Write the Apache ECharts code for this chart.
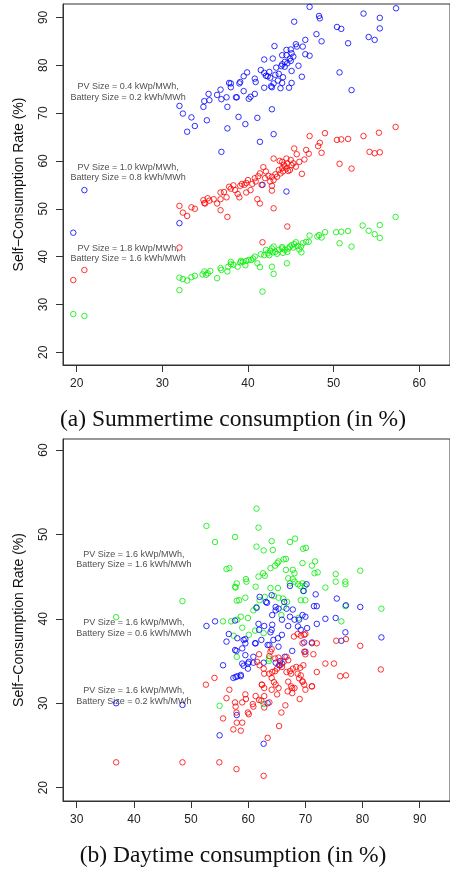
<!DOCTYPE html>
<html>
<head>
<meta charset="utf-8">
<script src="https://cdn.jsdelivr.net/npm/echarts@6/dist/echarts.min.js"></script>
<style>
html,body{margin:0;padding:0;background:#fff;}
#chart{width:450px;height:873px;}
</style>
</head>
<body>
<div id="chart"></div>
<script>
// ---------- Data ----------
// (a) Summertime consumption (x) vs self-consumption rate (y)
const summerBlue = [
[47.2,92.2],[57.3,91.9],[53.5,90.8],[48.3,90.3],[48.4,89.8],[55.4,89.9],[45.4,89.1],[50.4,88.0],[50.9,87.6],[55.4,87.7],
[48.0,86.5],[54.1,85.9],[54.8,85.3],[48.6,85.0],[51.7,84.6],[43.1,84.0],[45.6,84.4],[45.7,83.9],[46.7,85.3],[46.4,83.9],
[44.5,83.2],[45.0,83.3],[45.1,82.5],[44.5,82.1],[44.0,82.1],[44.9,81.4],[44.3,80.7],[44.6,80.4],[43.9,79.8],[43.3,79.5],
[44.3,79.7],[45.1,78.8],[43.6,78.2],[43.2,78.0],[42.5,78.6],[42.3,77.7],[41.9,78.4],[41.5,79.0],[41.9,81.2],[42.9,81.4],
[46.7,82.3],[47.2,82.0],[45.9,79.9],[46.3,77.6],[45.1,76.3],[44.8,75.3],[43.8,75.2],[44.0,76.3],[44.1,77.5],[43.0,76.2],
[42.8,75.4],[42.7,75.6],[41.9,75.3],[40.8,77.2],[40.9,76.5],[39.9,78.5],[39.5,77.7],[39.1,76.5],[39.0,76.2],[38.0,76.2],
[37.8,76.3],[38.0,75.4],[39.5,74.6],[40.8,74.0],[40.3,73.4],[40.1,73.0],[38.7,73.3],[38.6,73.3],[37.5,73.3],[36.8,74.9],
[36.4,73.8],[36.9,72.9],[35.4,74.0],[35.5,72.7],[34.9,72.5],[34.8,71.3],[37.6,71.3],[32.0,71.5],[32.4,69.9],[33.4,69.1],
[35.2,68.5],[38.9,69.2],[41.1,69.0],[42.8,70.8],[33.8,67.3],[32.9,66.1],[37.6,66.8],[39.7,67.7],[43.0,65.6],[41.4,64.0],
[36.9,61.9],[50.7,78.5],[52.1,74.8],[42.1,77.8],[42.6,77.4],[44.0,80.2],[45.3,81.8],[45.0,80.9],[43.5,76.8],
[44.5,53.6],[41.7,55.0],[20.9,53.9],[19.6,45.0],[32.0,47.0]
];
const summerRed = [
[57.25,67.1],[49.0,65.8],[47.2,65.2],[55.3,65.9],[53.5,65.2],[50.4,64.4],[50.9,64.5],[51.7,64.6],[48.4,63.8],[48.2,63.1],
[48.6,61.7],[46.8,62.3],[47.1,61.5],[45.4,62.6],[45.7,61.4],[54.2,61.9],[54.8,61.6],[55.4,61.8],[50.7,59.4],[52.1,58.4],
[43.0,60.5],[44.5,60.5],[45.0,60.2],[44.0,59.8],[44.6,59.5],[45.1,59.1],[44.5,58.4],[44.1,57.8],[44.9,58.1],[44.3,58.9],
[43.6,58.1],[43.4,56.7],[43.8,57.4],[46.3,57.3],[46.0,59.8],[46.6,60.3],[41.8,58.7],[42.1,57.8],[42.4,56.9],[42.8,56.7],
[43.0,56.0],[42.6,55.7],[40.8,56.4],[40.9,55.7],[41.6,55.0],[41.4,57.4],[40.0,56.0],[39.6,55.0],[39.1,54.8],[39.3,55.2],
[40.3,53.9],[42.8,54.8],[42.8,53.8],[37.8,54.6],[38.0,54.2],[38.3,54.9],[38.8,53.1],[39.0,52.4],[39.8,53.4],[41.1,52.0],
[41.4,51.1],[36.8,53.4],[36.8,52.0],[37.5,52.4],[36.4,51.1],[34.8,51.8],[35.3,52.2],[35.5,51.7],[35.0,51.1],[36.8,49.7],
[37.6,48.3],[43.0,50.1],[33.4,50.3],[33.8,50.0],[32.0,50.6],[32.4,49.2],[32.9,48.5],[44.6,46.3],
[44.0,58.5],[44.7,57.9],[45.3,59.5],[43.2,57.2],[44.2,59.2],[42.0,56.4],[40.5,55.2],[39.8,55.4],[37.2,53.5],[36.0,52.0],
[34.9,51.2],[43.7,60.0],[45.6,58.8],[41.2,56.8],[38.5,53.9],
[19.6,35.1],[20.9,37.2],[32.0,41.9],[41.7,43.0]
];
const summerGreen = [
[57.25,48.3],[55.4,46.6],[53.4,46.5],[54.1,45.4],[54.8,44.7],[55.4,43.9],[50.3,45.1],[50.9,45.2],[51.7,45.35],[50.7,42.8],
[52.1,42.1],[49.0,45.1],[48.3,44.5],[48.1,44.2],[48.6,44.0],[47.2,44.4],[46.8,43.1],[47.1,43.1],[46.2,42.1],[46.4,42.8],
[46.25,40.9],[45.6,43.0],[45.4,42.6],[45.1,42.4],[44.9,42.1],[44.7,41.7],[44.3,41.4],[44.0,41.7],[43.6,41.4],[43.2,41.0],
[42.8,41.7],[43.0,42.1],[42.5,40.3],[42.3,40.7],[41.9,40.3],[42.1,41.4],[44.55,38.6],[42.8,37.9],[43.0,36.4],[41.7,32.7],
[41.4,37.8],[41.1,38.6],[40.8,40.0],[40.4,39.3],[40.1,39.3],[39.8,39.1],[39.4,38.9],[39.1,38.8],[38.8,37.9],[39.7,38.2],
[38.0,38.9],[38.0,38.4],[37.7,37.9],[37.6,36.9],[36.8,37.6],[36.9,37.2],[36.4,35.5],[35.6,37.0],[35.3,36.5],[34.9,36.9],
[34.7,36.3],[35.1,36.2],[33.8,36.0],[33.4,35.7],[32.9,35.0],[32.4,35.3],[32.0,35.6],[32.0,33.0],
[44.1,40.8],[44.6,41.0],[45.3,41.9],[43.4,40.6],[42.9,40.9],[44.0,42.0],[41.5,40.5],[40.6,39.6],[39.2,39.1],[38.3,38.3],
[45.8,42.2],[46.0,41.5],[42.6,41.2],
[19.6,28.0],[20.9,27.6]
];
// (b) Daytime consumption (x) vs self-consumption rate (y)
const dayGreen = [
[61.45,53.05],[52.7,51.0],[61.8,50.8],[54.2,49.1],[57.7,49.7],[64.1,49.2],[61.45,48.55],[62.7,48.1],[64.3,48.15],[67.3,49.1],
[68.2,49.5],[69.6,48.3],[70.1,48.4],[56.2,45.9],[56.7,46.0],[61.8,45.0],[62.6,45.4],[62.9,45.1],[63.9,46.0],[64.7,46.3],
[65.1,46.6],[65.3,46.8],[66.2,47.05],[66.6,47.1],[69.5,46.6],[71.15,46.3],[71.7,46.8],[71.6,45.4],[72.15,45.5],[66.6,45.8],
[67.8,45.8],[68.1,45.4],[58.0,44.2],[57.7,43.8],[59.6,44.7],[59.7,44.4],[61.3,43.8],[63.9,43.65],[65.2,43.65],[67.0,44.8],
[67.3,44.2],[67.8,44.7],[68.1,44.4],[68.7,44.1],[69.1,43.9],[69.5,44.2],[69.9,43.9],[73.5,43.7],[75.3,45.3],[75.3,44.4],
[77.0,44.4],[77.0,44.1],[79.6,45.7],[62.9,42.6],[64.5,42.7],[65.3,42.5],[66.1,42.4],[66.8,42.0],[58.0,42.15],[58.4,42.2],
[59.5,42.5],[62.0,42.2],[69.6,43.3],[70.0,42.2],[69.2,42.2],[66.2,41.4],[48.5,42.1],[83.3,41.2],[77.0,41.5],[36.9,40.2],
[55.6,39.7],[57.0,39.7],[58.1,39.9],[58.7,40.25],[59.95,40.1],[57.8,43.7],[60.9,41.0],[61.45,41.4],[65.8,40.45],[68.8,40.1],
[76.3,39.7],[57.45,38.0],[58.95,38.95],[60.1,38.1],[61.2,38.6],[62.7,38.3],[58.0,35.5],[63.6,35.3],[63.6,35.0],
[55.0,29.7],[62.7,29.9]
];
const dayBlue = [
[70.2,44.1],[67.3,43.9],[69.7,43.3],[71.8,42.9],[61.45,41.3],[62.0,42.6],[64.1,42.8],[63.3,41.9],[64.8,41.4],[65.3,41.2],
[66.3,42.0],[66.7,41.2],[67.8,41.1],[75.5,42.4],[77.1,41.6],[79.6,41.4],[71.5,41.5],[72.0,41.5],[64.2,40.45],[65.9,39.9],
[67.3,40.25],[68.1,39.9],[68.9,39.9],[70.0,40.25],[72.0,39.4],[75.3,40.1],[52.7,39.15],[54.2,39.7],[57.7,39.8],[61.8,39.4],
[62.8,39.15],[61.9,38.7],[64.1,38.7],[63.9,38.4],[64.4,37.5],[65.2,37.7],[65.9,38.1],[67.0,39.15],[68.7,39.1],[69.2,38.7],
[70.3,38.9],[56.6,38.2],[56.2,37.3],[58.1,37.7],[59.2,37.5],[59.5,37.1],[57.7,36.3],[57.95,36.2],[58.95,36.5],[59.5,35.7],
[61.3,37.1],[63.4,36.9],[65.3,36.7],[67.7,36.2],[69.8,37.2],[70.0,36.1],[71.15,37.2],[77.0,38.4],[83.3,37.8],[76.3,37.4],
[55.6,34.5],[59.95,34.7],[58.95,34.7],[62.7,34.8],[64.8,34.8],[65.6,35.0],[58.1,33.2],[57.4,33.0],[58.7,33.2],[59.95,34.1],
[60.9,34.8],[65.9,34.7],[59.5,37.6],[63.1,42.0],[64.8,41.0],[69.5,40.45],[73.5,40.0],[64.2,39.3],[63.7,36.9],[66.4,35.5],
[61.2,37.1],[62.3,37.5],[60.9,35.5],[60.1,34.9],[59.2,34.45],[58.7,33.35],[57.8,33.1],[65.4,34.5],
[58.0,28.6],[36.9,30.0],[48.5,29.8],[55.0,26.2],[62.7,25.2],[63.4,30.0]
];
const dayRed = [
[69.8,38.1],[70.0,38.2],[71.15,37.1],[72.0,37.1],[75.4,37.4],[77.1,37.6],[79.6,36.8],[83.2,34.0],[76.1,33.2],[77.1,33.3],
[64.1,36.4],[63.9,36.1],[63.7,35.6],[61.9,35.8],[64.7,35.3],[65.3,35.4],[67.0,35.1],[66.7,35.5],[68.0,37.9],[68.65,38.2],
[69.2,38.0],[69.5,37.1],[69.8,36.1],[70.0,35.8],[71.4,35.8],[73.5,34.7],[75.0,34.7],[69.65,34.5],[69.1,34.2],[68.4,34.3],
[67.8,34.1],[67.3,33.8],[66.7,33.7],[67.5,33.5],[68.65,33.5],[69.2,33.3],[68.9,32.95],[69.5,32.55],[69.8,32.2],[65.05,34.1],
[65.6,34.5],[66.2,34.9],[65.9,34.3],[64.7,33.8],[64.2,33.7],[63.7,33.5],[61.55,34.9],[62.0,34.5],[62.7,34.1],[62.8,33.5],
[64.1,33.0],[64.5,32.5],[64.8,32.2],[65.3,31.8],[67.0,32.55],[67.5,32.0],[68.1,31.8],[69.5,32.6],[71.15,32.0],[62.4,32.2],
[62.8,31.8],[54.1,33.0],[52.6,32.2],[56.7,31.6],[59.5,31.05],[56.2,30.6],[61.3,30.85],[62.8,30.85],[62.3,30.3],[61.9,30.4],
[58.95,30.1],[59.6,30.5],[57.7,30.1],[57.8,29.6],[60.8,29.9],[60.9,29.6],[62.8,29.5],[63.7,30.1],[57.95,28.9],[59.95,28.9],
[60.1,28.7],[55.6,28.2],[58.0,27.7],[58.95,27.7],[57.4,26.9],[58.7,26.75],[65.4,27.3],[63.4,25.9],[66.5,29.75],[65.8,28.9],
[69.0,30.5],[66.9,31.4],[67.7,31.8],[67.7,31.2],[65.05,31.05],[64.1,31.6],[62.4,32.2],[70.0,31.6],[71.15,32.0],[72.0,33.7],
[54.95,23.0],[57.95,22.2],[62.7,21.4],[36.9,23.0],[48.5,23.0]
];
// Annotation texts and where they sit (data coordinates)
const summerNotes = [
  {text:'PV Size = 0.4 kWp/MWh,\nBattery Size = 0.2 kWh/MWh', at:[26,74.4]},
  {text:'PV Size = 1.0 kWp/MWh,\nBattery Size = 0.8 kWh/MWh', at:[26,57.6]},
  {text:'PV Size = 1.8 kWp/MWh,\nBattery Size = 1.6 kWh/MWh', at:[26,40.6]}
];
const dayNotes = [
  {text:'PV Size = 1.6 kWp/MWh,\nBattery Size = 1.6 kWh/MWh', at:[40,47.0]},
  {text:'PV Size = 1.6 kWp/MWh,\nBattery Size = 0.6 kWh/MWh', at:[40,38.9]},
  {text:'PV Size = 1.6 kWp/MWh,\nBattery Size = 0.2 kWh/MWh', at:[40,30.85]}
];
const summerXTicks = [20,30,40,50,60];
const summerYTicks = [20,30,40,50,60,70,80,90];
const dayXTicks = [30,40,50,60,70,80,90];
const dayYTicks = [20,30,40,50,60];
const yName = 'Self\u2212Consumption Rate (%)';
const captionA = '(a) Summertime consumption (in %)';
const captionB = '(b) Daytime consumption (in %)';

// ---------- Chart ----------
const chart = echarts.init(document.getElementById('chart'), null, {renderer:'canvas'});
const AX = '#333';
const FONT = 'Liberation Sans, Arial, sans-serif';
const SERIF = 'Liberation Serif, Times New Roman, serif';

function xAxisCfg(gi, min, max, ticks){
  return {
    gridIndex:gi, type:'value', min:min, max:max,
    axisLine:{show:true, lineStyle:{color:AX, width:1}},
    axisTick:{show:true, inside:false, length:7, customValues:ticks, lineStyle:{color:AX, width:1}},
    axisLabel:{show:true, customValues:ticks, margin:13, fontSize:12, color:'#222', fontFamily:FONT},
    splitLine:{show:false}
  };
}
function yAxisCfg(gi, min, max, ticks){
  return {
    gridIndex:gi, type:'value', min:min, max:max,
    name:yName, nameLocation:'middle', nameRotate:90, nameGap:37,
    nameTextStyle:{fontSize:14, color:'#111', fontFamily:FONT},
    axisLine:{show:true, lineStyle:{color:AX, width:1}},
    axisTick:{show:true, inside:false, length:7, customValues:ticks, lineStyle:{color:AX, width:1}},
    axisLabel:{show:true, customValues:ticks, rotate:90, margin:13, fontSize:12, color:'#222', fontFamily:FONT},
    splitLine:{show:false}
  };
}
function pts(data, color, gi){
  return {
    type:'scatter', xAxisIndex:gi, yAxisIndex:gi, data:data,
    symbol:'circle', symbolSize:5.5,
    itemStyle:{color:'rgba(0,0,0,0)', borderColor:color, borderWidth:1},
    emphasis:{disabled:true}, silent:true, z:2
  };
}
function notes(list, gi){
  return {
    type:'scatter', xAxisIndex:gi, yAxisIndex:gi, symbolSize:0, silent:true, z:3,
    data:list.map(n => ({value:n.at, label:{formatter:n.text}})),
    label:{show:true, position:'inside', fontSize:9, lineHeight:10.5, color:'#222',
           fontFamily:FONT, align:'center', verticalAlign:'middle'}
  };
}

chart.setOption({
  animation:false,
  backgroundColor:'#fff',
  grid:[
    {left:63, top:4, width:407, height:361, show:true, borderColor:AX, borderWidth:1, containLabel:false},
    {left:63, top:439, width:407, height:362, show:true, borderColor:AX, borderWidth:1, containLabel:false}
  ],
  xAxis:[xAxisCfg(0,18.4,63.6,summerXTicks), xAxisCfg(1,27.6,95.3,dayXTicks)],
  yAxis:[yAxisCfg(0,17.35,92.8,summerYTicks), yAxisCfg(1,18.42,61.3,dayYTicks)],
  series:[
    pts(summerBlue,'#0000ff',0), pts(summerRed,'#ff0000',0), pts(summerGreen,'#00ee00',0),
    pts(dayGreen,'#00ee00',1), pts(dayBlue,'#0000ff',1), pts(dayRed,'#ff0000',1),
    notes(summerNotes,0), notes(dayNotes,1)
  ],
  graphic:[
    {type:'text', style:{text:captionA, x:233, y:420, fontSize:23.5,
      fontFamily:SERIF, fill:'#111', align:'center', verticalAlign:'middle'}},
    {type:'text', style:{text:captionB, x:233, y:856, fontSize:23.5,
      fontFamily:SERIF, fill:'#111', align:'center', verticalAlign:'middle'}}
  ]
});
</script>
</body>
</html>
